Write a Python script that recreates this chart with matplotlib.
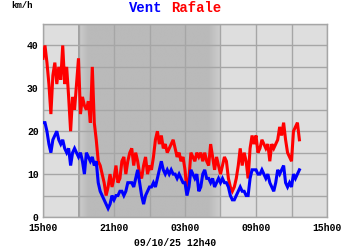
import numpy as np
import matplotlib
matplotlib.use("Agg")
import matplotlib.pyplot as plt
from matplotlib.colors import LinearSegmentedColormap

# 10-minute samples starting at 15h00 (hours since 15h00)
rafale = [37, 40, 36, 31, 24,
          33, 36, 31, 35, 32,
          40, 31, 35, 28, 20,
          28, 25, 31, 37, 24,
          28, 26, 25, 27, 22,
          35, 22, 18, 13, 12,
          10, 8, 5, 7, 10,
          7, 9, 12, 8, 9,
          13, 14, 10, 13, 15,
          16, 12, 15, 13, 10,
          9, 12, 14, 10, 12,
          11, 14, 18, 20, 17,
          19, 16, 17, 15, 16,
          17, 18, 16, 14, 15,
          13, 14, 11, 6, 9,
          15, 14, 13, 15, 14,
          15, 13, 15, 13, 12,
          17, 14, 11, 14, 12,
          10, 12, 14, 13, 9,
          7, 6, 7, 9, 12,
          16, 12, 15, 13, 9,
          16, 19, 17, 19, 15,
          16, 18, 17, 16, 17,
          13, 17, 16, 17, 18,
          21, 19, 22, 18, 15,
          14, 13, 20, 21, 22,
          18]
vent = [22, 22, 20, 17, 15,
        18, 19, 20, 18, 17,
        18, 16, 15, 16, 12,
        15, 16, 15, 14, 15,
        13, 10, 15, 14, 13,
        14, 12, 13, 8, 6,
        5, 4, 3, 2, 3,
        5, 4, 5, 5, 6,
        6, 5, 6, 8, 8,
        8, 7, 9, 11, 8,
        5, 3, 5, 6, 7,
        7, 8, 7, 9, 11,
        13, 11, 10, 11, 10,
        11, 10, 10, 9, 10,
        9, 8, 8, 5, 7,
        11, 10, 9, 10, 6,
        7, 10, 11, 9, 9,
        8, 9, 7, 8, 9,
        8, 9, 8, 8, 7,
        5, 4, 4, 5, 6,
        7, 6, 6, 5, 5,
        9, 11, 11, 11, 10,
        10, 11, 10, 9, 10,
        8, 7, 6, 8, 11,
        10, 11, 12, 8, 7,
        8, 7, 10, 9, 10,
        11]
xtick_labels = ["15h00", "21h00", "03h00", "09h00", "15h00"]
ytick_labels = ["0", "10", "20", "30", "40"]
night_start, night_end = 3.0, 15.0  # hours since 15h00

t = np.arange(len(vent)) / 6.0

fig = plt.figure(figsize=(3.5, 2.5), dpi=100)
fig.patch.set_facecolor("white")
ax = fig.add_axes([43/350, 33/250, 284/350, 193/250])
ax.set_facecolor("#dedede")

# night shading with soft edges
xs = np.linspace(0, 24, 2401)
inside = (xs >= night_start) & (xs <= night_end)
ramp_in = np.clip((xs - night_start) / 0.8, 0, 1)
ramp_out = np.clip((night_end - xs) / 1.0, 0, 1)
vals = np.where(inside, 0.45 + 0.55 * np.minimum(ramp_in, ramp_out), 0)
cmap = LinearSegmentedColormap.from_list("n", ["#dedede", "#bababa"])
img = np.ma.masked_where(vals[None, :] == 0, vals[None, :])
ax.imshow(img, extent=[0, 24, 0, 45], aspect="auto", cmap=cmap,
          vmin=0, vmax=1, zorder=0.5, interpolation="bilinear")

ax.set_xlim(0, 24)
ax.set_ylim(0, 45)
ax.set_xticks(np.arange(0, 25, 3))
ax.set_xticklabels([xtick_labels[i // 2] if i % 2 == 0 else "" for i in range(9)])
ax.set_yticks(np.arange(0, 46, 5))
ax.set_yticklabels([ytick_labels[i // 2] if i % 2 == 0 else "" for i in range(10)])
ax.grid(True, color="#a6a6a6", lw=1.0, zorder=1)
ax.set_axisbelow(False)
ax.tick_params(axis="x", length=0, pad=4)
ax.tick_params(axis="y", length=0, pad=3)
for lab in ax.get_xticklabels() + ax.get_yticklabels():
    lab.set_fontfamily("Liberation Mono")
    lab.set_fontweight("bold")
    lab.set_fontsize(7)
for s in ax.spines.values():
    s.set_color("#a6a6a6")
    s.set_linewidth(1.0)

ax.plot(t, rafale, color="#ff0000", lw=2.2, zorder=3, solid_joinstyle="miter")
ax.plot(t, vent, color="#0000ff", lw=2.2, zorder=4, solid_joinstyle="miter")

fig.text(146/350, 1 - 8/250, "Vent", color="#0000ff", fontfamily="Liberation Mono",
         fontweight="bold", fontsize=10, ha="center", va="center")
fig.text(196/350, 1 - 8/250, "Rafale", color="#ff0000", fontfamily="Liberation Mono",
         fontweight="bold", fontsize=10, ha="center", va="center")
fig.text(22/350, 1 - 6/250, "km/h", color="black", fontfamily="Liberation Mono",
         fontweight="bold", fontsize=6.5, ha="center", va="center")
fig.text(175/350, 1 - 243/250, "09/10/25 12h40", color="black", fontfamily="Liberation Mono",
         fontweight="bold", fontsize=7, ha="center", va="center")

fig.savefig("out.png", dpi=100)
